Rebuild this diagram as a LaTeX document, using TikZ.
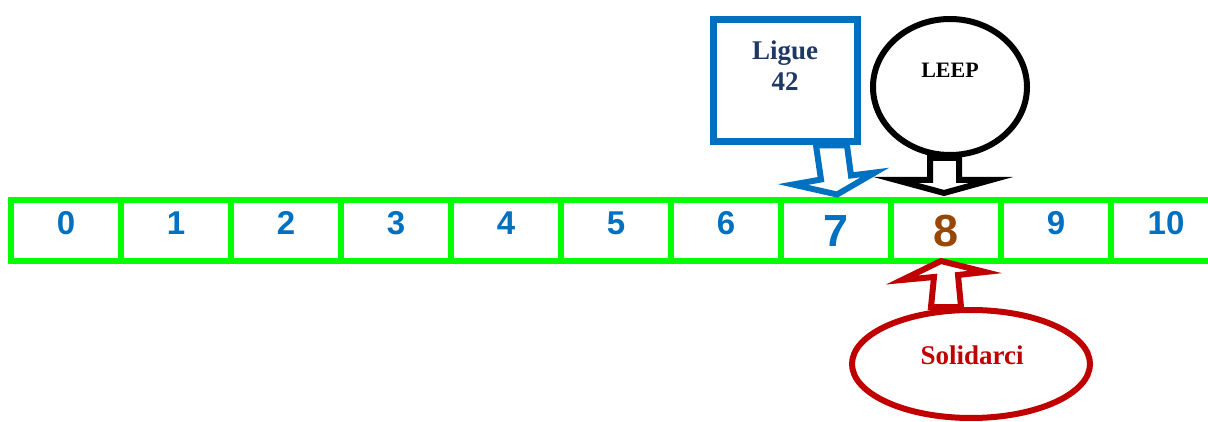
\documentclass[tikz,border=0pt]{standalone}
\usepackage{fontspec}
\setmainfont{Liberation Serif}
\newfontfamily\digitfont{Liberation Sans}
\usetikzlibrary{shapes.geometric}
\definecolor{numblue}{HTML}{0070C0}
\definecolor{numbrown}{HTML}{984806}
\definecolor{navy}{HTML}{1F3864}
\definecolor{darkred}{HTML}{C00000}

\begin{document}
\begin{tikzpicture}[x=1pt, y=-1pt,
    cell/.style={draw=green, line width=6pt, minimum width=110pt, minimum height=61pt,
      text=numblue, font=\digitfont\bfseries\fontsize{33}{35}\selectfont, text height=23pt, text depth=15pt},
    bigcell/.style={font=\digitfont\bfseries\fontsize{45}{47}\selectfont, text height=32pt, text depth=0pt},
    blockarrow/.style={line width=6pt, line join=miter},
    lbl/.style={font=\bfseries\fontsize{27}{31}\selectfont, align=center}]
\useasboundingbox (0,0) rectangle (1208,422);
\clip (0,0) rectangle (1208,422);

% number strip
\foreach \n in {0,...,6,9,10}
        \node [cell] (c\n) at (66+110*\n,230.5) {\n};
\node [cell, bigcell] (c7) at (66+110*7,230.5) {7};
\node [cell, bigcell, text=numbrown] (c8) at (66+110*8,230.5) {8};

%Ligue 42
\node [draw=numblue, line width=7pt, minimum width=144pt, minimum height=122pt] (ligue) at (785,81) {};
\node [lbl, text=navy] (liguetxt) at (785,66) {Ligue\\42};
\draw [blockarrow, numblue] ([xshift=31pt]ligue.south) to ++ (5,34) to ++ (-28,5) to ++ (44,10) to ++ (38,-22) to ++ (-24,3) to ++ (-4,-30) -- cycle;

%LEEP
\node [draw, ellipse, line width=6pt, minimum width=154pt, minimum height=136pt] (leep) at (950,87) {};
\node [lbl, font=\bfseries\fontsize{22}{24}\selectfont] (leeptxt) at (950,70) {LEEP};
\draw [blockarrow, black] ([xshift=-20pt]leep.south) to ++ (0,22) to ++ (-34,0) to ++ (48,13) to ++ (47,-13) to ++ (-32,0) to ++ (0,-22) -- cycle;

%Solidarci
\node [draw=darkred, ellipse, line width=6pt, minimum width=238pt, minimum height=108pt] (soli) at (971,364) {};
\node [lbl, text=darkred] (solitxt) at (972,355) {Solidarci};
\draw [blockarrow, darkred] ([xshift=-40pt]soli.north) to ++ (3,-30) to ++ (-32,3) to ++ (39,-19) to ++ (44,11) to ++ (-27,3) to ++ (3,32) -- cycle;
\end{tikzpicture}
\end{document}
